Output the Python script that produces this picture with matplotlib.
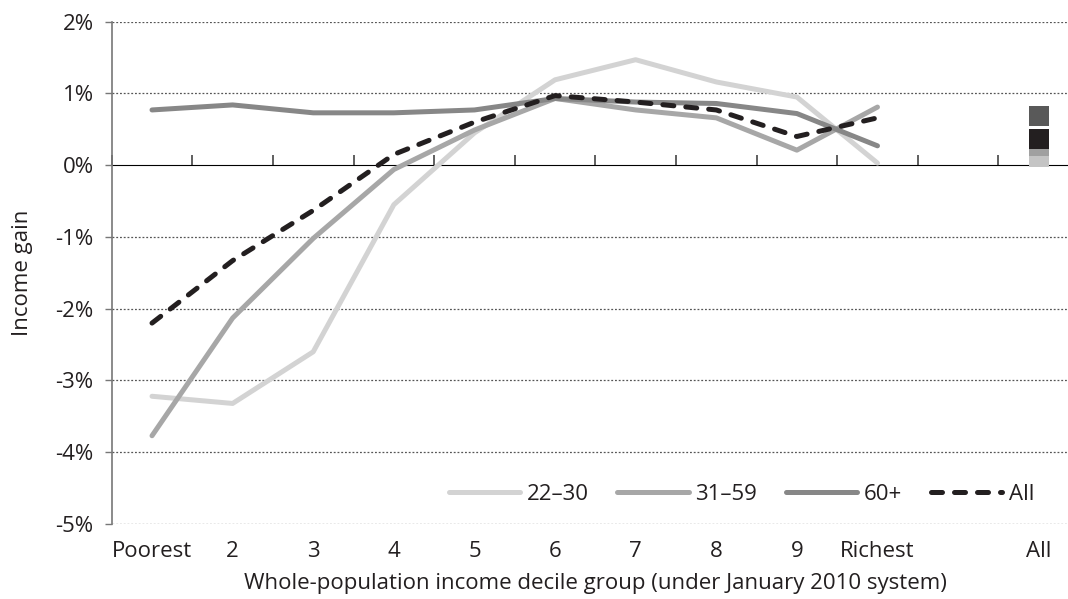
import matplotlib
matplotlib.use('Agg')
import matplotlib.pyplot as plt

plt.rcParams['font.family'] = ['Open Sans', 'DejaVu Sans']

# Data (income gain, %)
deciles = ['Poorest', '2', '3', '4', '5', '6', '7', '8', '9', 'Richest']
series_names = ['22\u201330', '31\u201359', '60+', 'All']
gain_22_30 = [-3.22, -3.32, -2.60, -0.55, 0.45, 1.19, 1.47, 1.16, 0.95, 0.03]
gain_31_59 = [-3.77, -2.13, -1.02, -0.06, 0.49, 0.93, 0.77, 0.66, 0.21, 0.81]
gain_60plus = [0.77, 0.84, 0.73, 0.73, 0.77, 0.93, 0.88, 0.86, 0.72, 0.27]
gain_all = [-2.20, -1.33, -0.63, 0.15, 0.60, 0.97, 0.88, 0.77, 0.40, 0.66]
overall = [0.12, 0.27, 0.69, 0.37]  # the "All" column, same order as series_names

line_colors = ['#d3d3d3', '#a7a7a7', '#878787', '#231f20']
square_colors = ['#c4c4c4', '#a0a0a0', '#595959', '#231f20']

FS = 16

fig = plt.figure(figsize=(10.68, 5.99), dpi=100)
ax = fig.add_axes([0.1046, 0.1252, 0.9057, 0.8386])

x = list(range(len(deciles)))
all_pos = len(deciles) + 1
series = [gain_22_30, gain_31_59, gain_60plus, gain_all]

for i, (name, vals) in enumerate(zip(series_names, series)):
    if name == 'All':
        ax.plot(x, vals, color=line_colors[i], lw=3.6, label=name,
                dashes=(2.2, 2.4), dash_capstyle='round', zorder=5)
    else:
        ax.plot(x, vals, color=line_colors[i], lw=3.6, label=name,
                solid_capstyle='round', solid_joinstyle='round', zorder=3 + i * 0.1)
    ax.plot([all_pos], [overall[i]], marker='s', ms=14.4, mew=0,
            color=square_colors[i], linestyle='none', zorder=6)

ax.set_xlim(-0.5, 11.5)
ax.set_ylim(-5, 2)

# y axis
yt = [2, 1, 0, -1, -2, -3, -4, -5]
ax.set_yticks(yt)
ax.set_yticklabels([f'{v}%' for v in yt], fontsize=FS, color='#231f20')
ax.tick_params(axis='y', length=5, width=1, color='#777777', pad=8)
ax.set_ylabel('Income gain', fontsize=FS, color='#231f20', labelpad=16)

for v in [2, 1, -1, -2, -3, -4, -5]:
    ax.axhline(v, color='#555555', lw=0.9, ls=(0, (1.5, 1.5)), zorder=1)

# x labels at category centres, at bottom of the plot
ax.set_xticks(x + [all_pos])
ax.set_xticklabels(deciles + ['All'], fontsize=FS, color='#231f20')
ax.tick_params(axis='x', length=0, pad=12)
ax.set_xlabel('Whole-population income decile group (under January 2010 system)',
              fontsize=FS, color='#231f20', labelpad=8)

# zero line with category-boundary ticks
zero_ax = ax.secondary_xaxis(5 / 7)
zero_ax.set_xticks([k - 0.5 for k in range(13)])
zero_ax.set_xticklabels([])
zero_ax.tick_params(axis='x', direction='out', length=7, width=1.2, color='#444444')
zero_ax.spines['bottom'].set_color('#444444')
zero_ax.spines['bottom'].set_linewidth(1.2)

for s in ['top', 'right', 'bottom']:
    ax.spines[s].set_visible(False)
ax.spines['left'].set_color('#777777')
ax.spines['left'].set_linewidth(1.2)

leg = ax.legend(loc='center right', bbox_to_anchor=(1034 / 1068, 1 - 494 / 599),
                bbox_transform=fig.transFigure, ncol=4, frameon=False,
                fontsize=FS, handlelength=3.2, handletextpad=0.3,
                columnspacing=1.3, borderaxespad=0, borderpad=0)
for t in leg.get_texts():
    t.set_color('#231f20')

fig.savefig('out.png', dpi=100)
